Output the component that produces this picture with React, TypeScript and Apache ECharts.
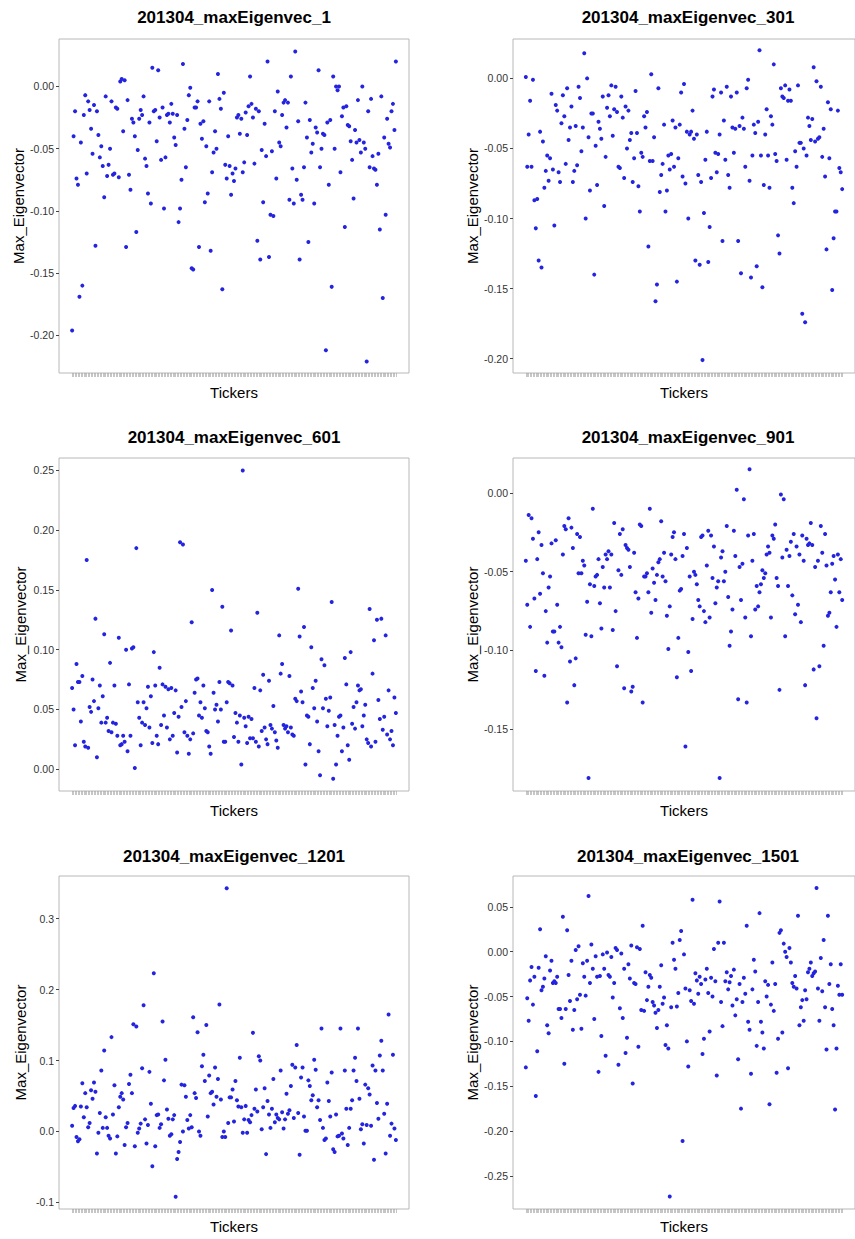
import React, { useEffect, useRef } from "react";
import * as echarts from "echarts";

// Max eigenvector component per ticker, six blocks of tickers from April 2013
const titles = [
  "201304_maxEigenvec_1",
  "201304_maxEigenvec_301",
  "201304_maxEigenvec_601",
  "201304_maxEigenvec_901",
  "201304_maxEigenvec_1201",
  "201304_maxEigenvec_1501",
];

const vec1 = [
  -0.196, -0.040, -0.020, -0.074, -0.079, -0.169, -0.045, -0.160, -0.023, -0.007,
  -0.070, -0.012, -0.019, -0.034, -0.054, -0.015, -0.128, -0.020, -0.039, -0.057,
  -0.048, -0.064, -0.089, -0.008, -0.072, -0.063, -0.050, -0.012, -0.071, -0.070,
  -0.017, -0.018, -0.073, 0.004, 0.006, -0.036, 0.005, -0.129, -0.011, -0.071,
  -0.083, -0.026, -0.029, -0.040, -0.117, -0.051, -0.026, -0.019, -0.023, -0.008,
  -0.058, -0.064, -0.086, -0.029, -0.094, 0.015, -0.020, -0.019, -0.044, 0.013,
  -0.025, -0.059, -0.017, -0.098, -0.057, -0.023, -0.022, -0.029, -0.014, -0.022,
  -0.041, -0.047, -0.023, -0.109, -0.098, -0.075, 0.018, -0.034, -0.065, -0.027,
  -0.007, -0.001, -0.146, -0.147, -0.017, -0.017, -0.012, -0.129, -0.030, -0.042,
  -0.028, -0.093, -0.048, -0.086, -0.012, -0.132, -0.069, -0.053, -0.036, -0.050,
  0.010, -0.010, -0.018, -0.163, -0.005, -0.063, -0.074, -0.040, -0.064,
  -0.087, -0.070, -0.076, -0.066, -0.025, -0.023, -0.038, -0.026, -0.069, -0.061,
  -0.021, -0.039, -0.016, 0.008, -0.014, -0.025, -0.062, -0.018, -0.124, -0.020,
  -0.139, -0.051, -0.093, -0.030, -0.056, 0.020, -0.137, -0.103, -0.052, -0.104,
  -0.020, -0.074, -0.004, -0.045, -0.048, -0.023, -0.013, -0.011, -0.033, -0.013,
  -0.091, 0.008, -0.066, -0.094, 0.028, -0.075, -0.028, -0.139, -0.087, -0.091,
  -0.065, -0.013, -0.041, -0.125, -0.027, -0.053, -0.046, -0.094, -0.033, -0.037,
  0.013, -0.065, -0.050, -0.038, -0.039, -0.212, -0.029, -0.079, -0.027, -0.161,
  0.008, -0.050, 0.000, -0.003, 0.000, -0.069, -0.024, -0.017, -0.113, -0.016,
  -0.031, -0.032, -0.044, -0.059, -0.090, -0.035, -0.045, -0.011, -0.043, -0.053,
  0.000, -0.045, -0.050, -0.221, -0.020, -0.065, -0.010, -0.056, -0.066, -0.067,
  -0.079, -0.054, -0.115, -0.008, -0.170, -0.041, -0.103, -0.026, -0.046, -0.049,
  -0.020, -0.014, -0.035, 0.020,
];

const vec301 = [
  0.001, -0.063, -0.040, -0.016, -0.063, -0.001, -0.087, -0.107, -0.086, -0.130,
  -0.038, -0.135, -0.045, -0.078, -0.066, -0.055, -0.073, -0.057, -0.011, -0.065,
  -0.105, -0.019, -0.023, -0.067, -0.074, -0.032, -0.012, -0.027, -0.061, -0.007,
  -0.044, -0.035, -0.020, -0.074, -0.066, -0.034, -0.062, -0.006, -0.014, -0.052,
  -0.035, 0.018, -0.100, 0.000, -0.042, -0.080, -0.025, -0.025, -0.140, -0.048,
  -0.076, -0.031, -0.036, -0.043, -0.013, -0.091, -0.056, -0.021, -0.012, -0.027,
  -0.005, -0.041, -0.022, -0.006, -0.024, -0.063, -0.064, -0.013, -0.028, -0.071,
  -0.020, -0.050, -0.023, -0.044, -0.039, -0.074, -0.057, -0.009, -0.039, -0.077,
  -0.095, -0.053, -0.056, -0.027, -0.035, -0.024, -0.120, -0.059, 0.003, -0.059,
  -0.042, -0.159, -0.147, -0.007, -0.081, -0.069, -0.061, -0.033, -0.095, -0.080,
  -0.055, -0.065, -0.054, -0.030, -0.063, -0.035,
  -0.145, -0.057, -0.033, -0.010, -0.070, -0.004, -0.075, -0.038, -0.100, -0.040,
  -0.038, -0.023, -0.043, -0.130, -0.040, -0.069, -0.133, -0.074, -0.201, -0.096,
  -0.058, -0.038, -0.131, -0.106, -0.071, -0.013, -0.008, -0.053, -0.067, -0.054,
  -0.040, -0.010, -0.116, -0.030, -0.058, -0.006, -0.069, -0.078, -0.013, -0.035,
  -0.053, -0.036, -0.010, -0.116, -0.034, -0.139, -0.028, -0.036, -0.063, -0.007,
  -0.001, -0.073, -0.142, -0.055, -0.033, -0.039, -0.134, -0.031, 0.020, -0.055,
  -0.149, -0.076, -0.040, -0.022, -0.055, -0.078, -0.027, -0.033, 0.010, -0.054,
  -0.059, -0.112, -0.125, -0.007, -0.013, -0.014, -0.005, -0.058, -0.016, -0.008,
  -0.016, -0.078, -0.089, -0.052, -0.063, -0.005, -0.046, -0.046, -0.168, -0.050,
  -0.174, -0.055, -0.028, -0.034, -0.044, -0.029, 0.008, -0.045, -0.002, -0.043,
  -0.042, -0.006, -0.056, -0.036, -0.070, -0.122, -0.017, -0.057, -0.022, -0.151,
  -0.114, -0.095, -0.095, -0.023, -0.064, -0.067, -0.079,
];

const vec601 = [
  0.068, 0.050, 0.020, 0.088, 0.073, 0.073, 0.040, 0.078, 0.023, 0.019,
  0.175, 0.018, 0.052, 0.048, 0.075, 0.057, 0.126, 0.010, 0.051, 0.070,
  0.039, 0.061, 0.113, 0.039, 0.043, 0.032, 0.089, 0.031, 0.039, 0.070,
  0.038, 0.028, 0.110, 0.020, 0.021, 0.028, 0.023, 0.100, 0.015, 0.071,
  0.028, 0.101, 0.102, 0.001, 0.185, 0.056, 0.043, 0.020, 0.039, 0.056,
  0.037, 0.051, 0.069, 0.035, 0.061, 0.022, 0.098, 0.070, 0.028, 0.021,
  0.085, 0.037, 0.071, 0.045, 0.069, 0.035, 0.067, 0.025, 0.068, 0.028,
  0.047, 0.066, 0.014, 0.044, 0.190, 0.052, 0.188, 0.031, 0.057, 0.028,
  0.013, 0.025, 0.123, 0.030, 0.064, 0.075, 0.076, 0.045, 0.056, 0.043,
  0.070, 0.051, 0.032, 0.031, 0.019, 0.013, 0.150, 0.064, 0.050, 0.054,
  0.040, 0.073, 0.050, 0.136, 0.023, 0.023, 0.056, 0.073, 0.072,
  0.116, 0.070, 0.027, 0.047, 0.039, 0.023, 0.045, 0.004, 0.250, 0.043,
  0.036, 0.022, 0.044, 0.026, 0.042, 0.026, 0.068, 0.023, 0.131, 0.019,
  0.066, 0.032, 0.079, 0.035, 0.025, 0.021, 0.074, 0.037, 0.034, 0.053,
  0.031, 0.024, 0.018, 0.112, 0.080, 0.088, 0.037, 0.034, 0.036, 0.031,
  0.078, 0.035, 0.029, 0.028, 0.059, 0.057, 0.151, 0.111, 0.065, 0.056,
  0.119, 0.004, 0.045, 0.044, 0.021, 0.102, 0.068, 0.051, 0.074, 0.040,
  0.015, -0.005, 0.092, 0.051, 0.087, 0.059, 0.036, 0.049, 0.060, 0.140,
  -0.008, 0.037, 0.004, 0.028, 0.044, 0.045, 0.015, 0.035, 0.093, 0.071,
  0.020, 0.008, 0.098, 0.038, 0.052, 0.034, 0.056, 0.070, 0.066, 0.067,
  0.036, 0.045, 0.054, 0.025, 0.022, 0.134, 0.019, 0.080, 0.108, 0.023,
  0.125, 0.058, 0.042, 0.126, 0.033, 0.044, 0.112, 0.029, 0.066, 0.025,
  0.032, 0.020, 0.060, 0.047,
];

const vec901 = [
  -0.043, -0.071, -0.014, -0.085, -0.016, -0.029, -0.067, -0.113, -0.042, -0.025,
  -0.064, -0.033, -0.051, -0.116, -0.075, -0.095, -0.060, -0.053, -0.032, -0.088,
  -0.088, -0.030, -0.071, -0.095, -0.085, -0.098, -0.039, -0.021, -0.023, -0.133,
  -0.016, -0.107, -0.022, -0.035, -0.122, -0.105, -0.026, -0.051, -0.028, -0.051,
  -0.043, -0.046, -0.090, -0.069, -0.181, -0.058, -0.091, -0.010, -0.059, -0.053,
  -0.052, -0.042, -0.070, -0.086, -0.047, -0.060, -0.039, -0.042, -0.037, -0.060,
  -0.039, -0.087, -0.019, -0.075, -0.110, -0.049, -0.026, -0.052, -0.023, -0.124,
  -0.033, -0.035, -0.036, -0.047, -0.126, -0.123, -0.038, -0.063, -0.092, -0.067,
  -0.020, -0.021, -0.133, -0.053, -0.053, -0.051, -0.063, -0.010, -0.076, -0.048,
  -0.057, -0.068, -0.052, -0.044, -0.042, -0.018, -0.053, -0.038, -0.056, -0.078,
  -0.099, -0.072, -0.039, -0.028, -0.025, -0.042,
  -0.117, -0.092, -0.062, -0.061, -0.040, -0.026, -0.161, -0.035, -0.101, -0.053,
  -0.113, -0.080, -0.050, -0.052, -0.058, -0.068, -0.072, -0.028, -0.027, -0.075,
  -0.082, -0.046, -0.024, -0.079, -0.027, -0.054, -0.034, -0.070, -0.060, -0.056,
  -0.181, -0.041, -0.037, -0.056, -0.050, -0.021, -0.066, -0.097, -0.088, -0.074,
  -0.024, -0.040, 0.002, -0.131, -0.047, -0.068, -0.045, -0.004, -0.079, -0.133,
  -0.027, 0.015, -0.091, -0.043, -0.026, -0.074, -0.059, -0.072, -0.063, -0.058,
  -0.049, -0.054, -0.051, -0.039, -0.034, -0.038, -0.079, -0.027, -0.029, -0.020,
  -0.054, -0.059, -0.125, -0.001, -0.041, -0.004, -0.091, -0.036, -0.059, -0.040,
  -0.031, -0.065, -0.026, -0.077, -0.034, -0.071, -0.039, -0.082, -0.027, -0.043,
  -0.122, -0.029, -0.033, -0.032, -0.019, -0.033, -0.112, -0.047, -0.143, -0.043,
  -0.110, -0.021, -0.038, -0.097, -0.026, -0.046, -0.078, -0.076, -0.063, -0.045,
  -0.040, -0.055, -0.085, -0.039, -0.063, -0.042, -0.068,
];

const vec1201 = [
  0.008, 0.033, 0.036, -0.008, -0.014, -0.011, 0.035, 0.068, 0.020, 0.054,
  0.034, 0.006, 0.012, 0.058, 0.046, 0.069, 0.056, -0.031, -0.002, 0.026,
  0.086, 0.005, 0.114, 0.020, 0.005, -0.006, -0.010, 0.133, 0.024, 0.065,
  -0.031, -0.007, 0.034, 0.049, 0.054, 0.045, -0.019, 0.006, 0.012, 0.067,
  0.080, 0.054, 0.151, -0.021, 0.148, -0.002, 0.004, 0.011, 0.089, 0.178,
  0.017, -0.017, 0.009, 0.084, 0.039, -0.049, 0.223, -0.021, 0.023, 0.024,
  0.005, 0.010, 0.155, 0.072, 0.101, 0.031, 0.018, -0.006, -0.004, 0.017,
  0.023, -0.092, -0.039, -0.029, -0.015, 0.066, 0.000, 0.065, 0.049, 0.016,
  0.004, 0.023, 0.006, 0.161, 0.054, 0.047, 0.140, 0.000, -0.006, 0.092,
  0.108, 0.071, 0.150, 0.021, 0.079, 0.054, 0.056, 0.038, 0.090, 0.049,
  0.074, 0.179, 0.045, -0.008, 0.000, -0.008, 0.343, 0.012, 0.048,
  0.048, 0.059, 0.014, 0.071, 0.044, 0.035, 0.104, 0.034, -0.002, 0.017,
  0.036, -0.002, 0.016, 0.013, 0.023, 0.139, 0.032, 0.059, 0.028, 0.106,
  0.100, 0.003, 0.034, 0.061, -0.032, 0.043, 0.024, 0.005, 0.032, 0.074,
  0.013, 0.024, 0.019, 0.017, 0.086, 0.027, 0.004, 0.017, 0.053, 0.025,
  0.030, 0.064, 0.094, 0.019, 0.090, 0.122, 0.026, -0.033, 0.076, 0.090,
  0.021, 0.001, 0.001, 0.072, 0.064, 0.044, 0.051, 0.101, 0.087, 0.034,
  0.044, 0.016, 0.145, 0.005, -0.012, -0.010, 0.069, 0.043, 0.021, 0.083,
  -0.025, -0.029, 0.024, -0.007, -0.006, 0.145, -0.003, -0.010, 0.086, 0.032,
  -0.019, 0.005, 0.032, 0.044, 0.086, 0.104, 0.071, 0.145, 0.046, 0.003,
  0.010, -0.017, 0.066, 0.009, 0.061, 0.052, 0.008, 0.093, -0.040, 0.086,
  0.040, 0.018, 0.107, 0.128, 0.086, 0.025, -0.031, 0.039, 0.165, -0.006,
  0.011, 0.108, 0.004, -0.012,
];

const vec1501 = [
  -0.129, -0.052, -0.077, -0.032, -0.017, -0.059, -0.028, -0.161, -0.111, -0.018,
  0.025, -0.043, -0.039, -0.030, -0.005, -0.082, -0.091, -0.021, -0.010, -0.035,
  -0.033, -0.035, -0.028, -0.064, -0.064, -0.074, 0.039, -0.125, -0.064, 0.024,
  -0.026, -0.055, -0.010, -0.087, -0.065, 0.002, -0.053, 0.006, -0.048, -0.086,
  -0.013, -0.028, -0.049, -0.010, 0.062, -0.035, 0.008, -0.019, -0.075, -0.005,
  -0.028, -0.134, -0.027, -0.094, -0.003, -0.019, -0.116, -0.001, -0.026, -0.028,
  -0.006, -0.051, -0.035, 0.004, 0.002, -0.126, -0.063, -0.002, -0.074, -0.019,
  -0.113, -0.096, -0.014, -0.030, 0.007, -0.147, -0.035, -0.036, 0.005, -0.106,
  0.003, -0.065, 0.029, -0.066, -0.023, -0.054, -0.039, -0.026, -0.029, -0.056,
  -0.060, -0.068, -0.085, -0.065, -0.039, -0.015, -0.058, -0.051, -0.104, -0.082,
  -0.108, -0.273, -0.062, 0.010, -0.009, -0.019,
  -0.061, -0.046, 0.013, 0.023, -0.211, -0.003, -0.041, -0.100, -0.128, -0.043,
  -0.055, 0.058, -0.058, -0.024, -0.032, -0.047, -0.028, -0.036, -0.114, -0.097,
  -0.031, -0.019, -0.046, -0.089, -0.029, -0.050, 0.003, -0.033, -0.138, 0.010,
  0.056, -0.056, -0.083, 0.010, -0.033, -0.023, -0.042, -0.034, -0.027, -0.060,
  -0.020, -0.071, -0.053, -0.120, -0.036, -0.175, -0.056, -0.029, -0.047, 0.029,
  -0.078, -0.087, -0.136, -0.042, -0.009, -0.022, -0.105, -0.056, 0.043, -0.078,
  -0.090, -0.108, -0.033, -0.050, -0.037, -0.170, -0.059, -0.012, -0.066, -0.036,
  -0.135, -0.097, 0.021, 0.024, -0.090, 0.009, 0.000, -0.006, -0.130, 0.004,
  -0.012, -0.035, -0.039, -0.027, -0.041, 0.040, -0.082, -0.062, -0.054, -0.077,
  -0.043, -0.053, -0.023, -0.019, -0.012, -0.027, -0.024, -0.022, 0.071, -0.041,
  -0.077, -0.007, -0.044, 0.013, -0.062, -0.109, 0.040, -0.036, -0.014, -0.064,
  -0.082, -0.176, -0.108, -0.038, -0.048, -0.014, -0.048,
];

const seriesValues = [vec1, vec301, vec601, vec901, vec1201, vec1501];

// y-axis tick labels of each panel
const yTicks1 = [0, -0.05, -0.1, -0.15, -0.2];
const yTicks301 = [0, -0.05, -0.1, -0.15, -0.2];
const yTicks601 = [0, 0.05, 0.1, 0.15, 0.2, 0.25];
const yTicks901 = [0, -0.05, -0.1, -0.15];
const yTicks1201 = [-0.1, 0, 0.1, 0.2, 0.3];
const yTicks1501 = [0.05, 0, -0.05, -0.1, -0.15, -0.2, -0.25];
const yTickSets = [yTicks1, yTicks301, yTicks601, yTicks901, yTicks1201, yTicks1501];
const yDecimals = [2, 2, 2, 2, 1, 2];

// visible value range of each panel (data range plus padding)
const yRanges: [number, number][] = [
  [-0.2302, 0.0381],
  [-0.2102, 0.0281],
  [-0.0182, 0.2604],
  [-0.1892, 0.0222],
  [-0.1094, 0.3602],
  [-0.2869, 0.0844],
];

const FONT = '"Liberation Sans", Arial, Helvetica, sans-serif';
const PANEL_W = 350;
const colLeft = [59, 513];
const rowTop = [39, 458, 876];
const rowHeight = [334, 333, 333];
const titleY = [17, 437, 856];
const X_PAD = 9;

export default function App() {
  const ref = useRef<HTMLDivElement>(null);

  useEffect(() => {
    if (!ref.current) return;
    const chart = echarts.init(ref.current, null, { renderer: "svg" });

    const grids: any[] = [];
    const xAxes: any[] = [];
    const yAxes: any[] = [];
    const series: any[] = [];
    const graphics: any[] = [];

    seriesValues.forEach((values, k) => {
      const col = k % 2;
      const row = Math.floor(k / 2);
      const left = colLeft[col];
      const top = rowTop[row];
      const height = rowHeight[row];
      const n = values.length;
      const idx = values.map((_, i) => i);

      grids.push({
        left,
        top,
        width: PANEL_W,
        height,
        show: true,
        borderColor: "#b8b8b8",
        borderWidth: 1,
        backgroundColor: "#ffffff",
        containLabel: false,
      });

      xAxes.push({
        type: "value",
        gridIndex: k,
        position: "bottom",
        min: -X_PAD,
        max: n - 1 + X_PAD,
        axisLine: { show: false, onZero: false },
        splitLine: { show: false },
        axisLabel: { show: false },
        axisTick: {
          show: true,
          length: 4,
          customValues: idx,
          lineStyle: { color: "#a0a0a0", width: 0.6 },
        },
        name: "Tickers",
        nameLocation: "middle",
        nameGap: row === 2 ? 10 : 12,
        nameTextStyle: { fontSize: 15, color: "#000", fontFamily: FONT },
      });

      const ticks = yTickSets[k];
      const dec = yDecimals[k];
      yAxes.push({
        type: "value",
        gridIndex: k,
        position: "left",
        min: yRanges[k][0],
        max: yRanges[k][1],
        axisLine: { show: false, onZero: false },
        splitLine: { show: false },
        axisTick: {
          show: true,
          length: 3,
          customValues: ticks,
          lineStyle: { color: "#444", width: 1 },
        },
        axisLabel: {
          customValues: ticks,
          formatter: (v: number) => v.toFixed(dec),
          color: "#333",
          fontSize: 10.5,
          margin: 5,
          fontFamily: FONT,
        },
        name: "Max_Eigenvector",
        nameLocation: "middle",
        nameGap: 31,
        nameTextStyle: { fontSize: 15, color: "#000", fontFamily: FONT },
      });

      series.push({
        type: "scatter",
        xAxisIndex: k,
        yAxisIndex: k,
        data: values.map((v, i) => [i, v]),
        symbol: "circle",
        symbolSize: 4,
        itemStyle: { color: "#2323e0", opacity: 1 },
        silent: true,
      });

      graphics.push({
        type: "text",
        x: left + PANEL_W / 2,
        y: titleY[row],
        style: {
          text: titles[k],
          fill: "#000",
          font: `bold 17px ${FONT}`,
          align: "center",
          verticalAlign: "middle",
          textAlign: "center",
          textVerticalAlign: "middle",
        },
      });
    });

    chart.setOption({
      animation: false,
      backgroundColor: "#ffffff",
      textStyle: { fontFamily: FONT },
      grid: grids,
      xAxis: xAxes,
      yAxis: yAxes,
      series,
      graphic: graphics,
    });

    return () => chart.dispose();
  }, []);

  return (
    <div
      ref={ref}
      style={{ position: "absolute", left: 0, top: 0, width: 855, height: 1239 }}
    />
  );
}
